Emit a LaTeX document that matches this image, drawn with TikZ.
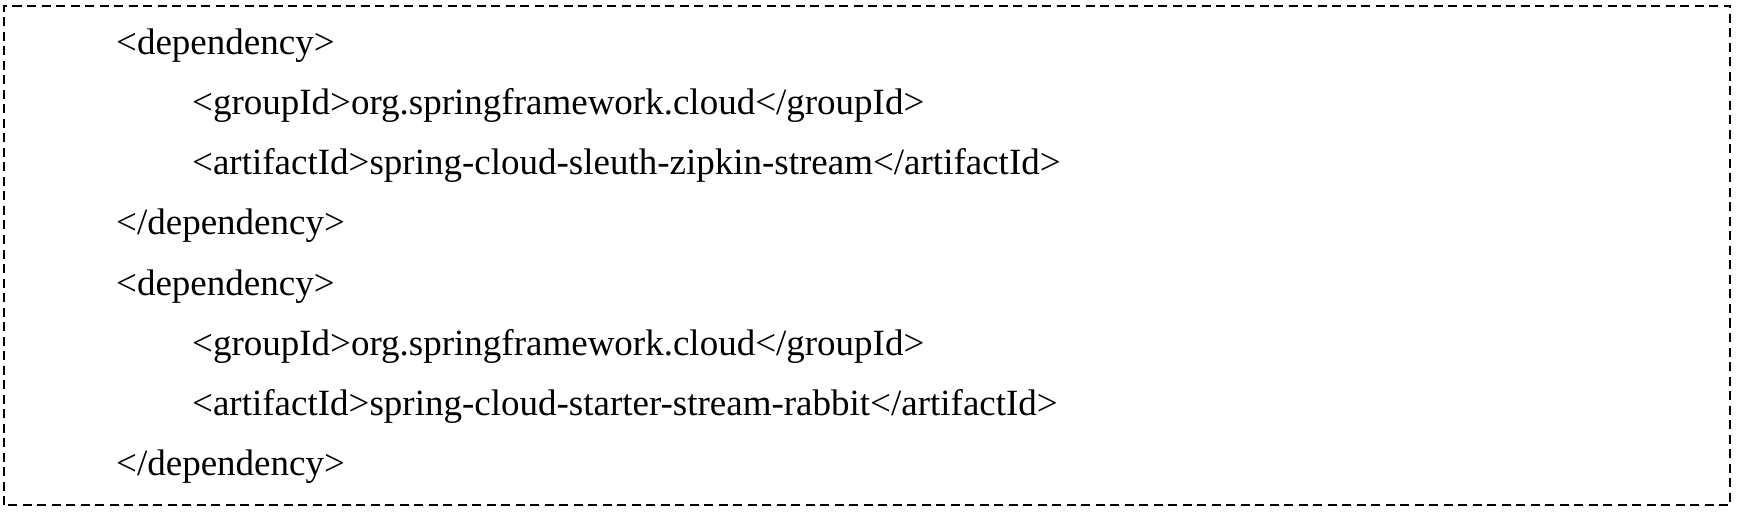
\documentclass[tikz,border=0pt]{standalone}
\usepackage{fontspec}
\setmainfont{Liberation Serif}
\usetikzlibrary{positioning}

\begin{document}
\begin{tikzpicture}[x=1pt,y=1pt]
\tikzstyle{codeline}=[anchor=base west,inner sep=0pt,font=\fontsize{37}{44}\selectfont]
\tikzstyle{frame}=[line width=2.4pt,dash pattern=on 9pt off 5.5pt]

\useasboundingbox (0,0) rectangle (1741,515);

%dashed frame
\coordinate (sw) at (4,10);
\coordinate (ne) at (1730,509);
\draw[frame] (sw) rectangle (ne);

%first dependency
\node[codeline] (d1) at (116,460) {<dependency>};
\node[codeline] (g1) at (192,400) {<groupId>org.springframework.cloud</groupId>};
\node[codeline] (a1) at (192,340) {<artifactId>spring-cloud-sleuth-zipkin-stream</artifactId>};
\node[codeline] (e1) at (116,280) {</dependency>};

%second dependency
\node[codeline] (d2) at (116,220) {<dependency>};
\node[codeline] (g2) at (192,160) {<groupId>org.springframework.cloud</groupId>};
\node[codeline] (a2) at (192,100) {<artifactId>spring-cloud-starter-stream-rabbit</artifactId>};
\node[codeline] (e2) at (116,40) {</dependency>};
\end{tikzpicture}
\end{document}
